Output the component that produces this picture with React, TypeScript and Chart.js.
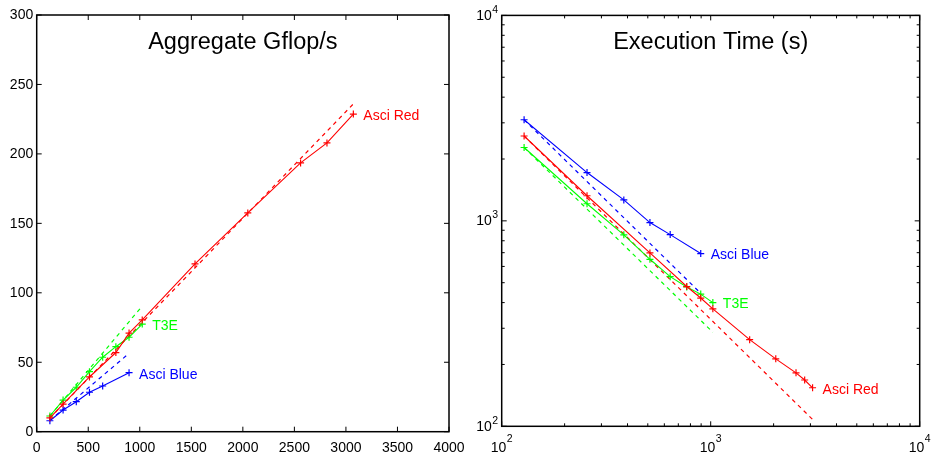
import React, { useEffect, useRef } from "react";
import { Chart, registerables } from "chart.js";

Chart.register(...registerables);

// ---------- data ----------
const procRed = [128, 256, 512, 768, 896, 1024, 1536, 2048, 2560, 2816, 3072];
const gflopRed = [10, 19.9, 39.4, 57, 71, 80.5, 120.8, 157.5, 193.5, 207.9, 228.7];
const timeRed = [2588, 1325, 698, 479, 421, 373, 264, 213, 182, 168, 154];

const procBlue = [128, 256, 384, 512, 640, 896];
const gflopBlue = [7.9, 15.6, 21.6, 28.4, 32.9, 42.5];
const timeBlue = [3105, 1718, 1265, 981, 857, 693];

const procGreen = [128, 256, 384, 512, 640, 768, 896, 1024];
const gflopGreen = [11.3, 22.8, 32, 43.2, 53.6, 61.2, 68, 77.5];
const timeGreen = [2275, 1211, 855, 650, 535, 477, 440, 400];

// ideal (perfect scaling) reference lines, endpoints as read
const idealProcRed = [128, 3072];
const idealGflopRed = [9.8, 236];
const idealTimeRed = [2588, 108];
const idealProcBlue = [128, 896];
const idealGflopBlue = [8.1, 56.4];
const idealTimeBlue = [3105, 444];
const idealProcGreen = [128, 1024];
const idealGflopGreen = [11.3, 90.5];
const idealTimeGreen = [2275, 287];

const seriesNames = ["Asci Red", "Asci Blue", "T3E"];
const seriesColors = ["#ff0000", "#0000ff", "#00ff00"];

const leftXTicks = [0, 500, 1000, 1500, 2000, 2500, 3000, 3500, 4000];
const leftYTicks = [0, 50, 100, 150, 200, 250, 300];
const logTicks = [100, 1000, 10000];
const logExponents = ["2", "3", "4"];

const leftTitle = "Aggregate Gflop/s";
const rightTitle = "Execution Time (s)";

const FONT = "'Liberation Sans', Arial, Helvetica, sans-serif";

const pts = (xs: number[], ys: number[]) => xs.map((x, i) => ({ x, y: ys[i] }));

function solid(label: string, color: string, data: any[]) {
  return {
    label,
    data,
    borderColor: color,
    backgroundColor: color,
    borderWidth: 1.1,
    pointStyle: "cross",
    pointRadius: 3.5,
    pointBorderWidth: 1.2,
    pointBorderColor: color,
    pointBackgroundColor: color,
    pointHoverRadius: 3.5,
    tension: 0,
    fill: false,
  };
}
function dashed(label: string, color: string, data: any[]) {
  return {
    label,
    data,
    borderColor: color,
    backgroundColor: color,
    borderWidth: 1.2,
    borderDash: [4, 4],
    borderCapStyle: "butt",
    pointRadius: 0,
    tension: 0,
    fill: false,
  };
}

const matlabPlugin = {
  id: "matlab",
  afterDatasetsDraw(chart: any, _args: any, opts: any) {
    const { ctx, chartArea: a, scales } = chart;
    const xs = scales.x;
    const ys = scales.y;
    ctx.save();
    // title
    ctx.fillStyle = "#000";
    ctx.font = `23.5px ${FONT}`;
    ctx.textAlign = "center";
    ctx.textBaseline = "alphabetic";
    ctx.fillText(opts.title, (a.left + a.right) / 2, 49);

    // series labels at last point of each solid series
    ctx.font = `14px ${FONT}`;
    ctx.textAlign = "left";
    ctx.textBaseline = "middle";
    (opts.series || []).forEach((s: any) => {
      const ds = chart.data.datasets[s.index];
      const last = ds.data[ds.data.length - 1];
      const px = xs.getPixelForValue(last.x);
      const py = ys.getPixelForValue(last.y);
      ctx.fillStyle = s.color;
      ctx.fillText(s.text, px + 10, py + 2);
    });

    // box
    ctx.strokeStyle = "#000";
    ctx.lineWidth = 1.5;
    ctx.strokeRect(a.left, a.top, a.right - a.left, a.bottom - a.top);

    // ticks
    ctx.lineWidth = 1;
    const xTick = (v: number, len: number) => {
      const p = xs.getPixelForValue(v);
      ctx.beginPath();
      ctx.moveTo(p, a.bottom);
      ctx.lineTo(p, a.bottom - len);
      ctx.moveTo(p, a.top);
      ctx.lineTo(p, a.top + len);
      ctx.stroke();
    };
    const yTick = (v: number, len: number) => {
      const p = ys.getPixelForValue(v);
      ctx.beginPath();
      ctx.moveTo(a.left, p);
      ctx.lineTo(a.left + len, p);
      ctx.moveTo(a.right, p);
      ctx.lineTo(a.right - len, p);
      ctx.stroke();
    };

    ctx.fillStyle = "#000";
    if (!opts.log) {
      opts.xTicks.forEach((v: number) => xTick(v, 5));
      opts.yTicks.forEach((v: number) => yTick(v, 5));
      ctx.font = `14px ${FONT}`;
      ctx.textAlign = "center";
      ctx.textBaseline = "alphabetic";
      opts.xTicks.forEach((v: number) => {
        ctx.fillText(String(v), xs.getPixelForValue(v), a.bottom + 20);
      });
      ctx.textAlign = "right";
      ctx.textBaseline = "middle";
      opts.yTicks.forEach((v: number) => {
        ctx.fillText(String(v), a.left - 3.5, ys.getPixelForValue(v) + 0.5);
      });
    } else {
      const ticks: number[] = opts.xTicks;
      for (let i = 0; i < ticks.length; i++) {
        xTick(ticks[i], 5);
        yTick(ticks[i], 5);
        if (i < ticks.length - 1) {
          for (let m = 2; m <= 9; m++) {
            xTick(ticks[i] * m, 3);
            yTick(ticks[i] * m, 3);
          }
        }
      }
      const big = `14px ${FONT}`;
      const small = `10.5px ${FONT}`;
      ticks.forEach((v: number, i: number) => {
        const exp = opts.exps[i];
        ctx.font = big;
        const w10 = ctx.measureText("10").width;
        ctx.font = small;
        const ws = ctx.measureText(exp).width;
        // x label
        const px = xs.getPixelForValue(v);
        const start = px - (w10 + ws + 0.5) / 2;
        ctx.textAlign = "left";
        ctx.textBaseline = "alphabetic";
        ctx.font = big;
        ctx.fillText("10", start, a.bottom + 25.5);
        ctx.font = small;
        ctx.fillText(exp, start + w10 + 0.5, a.bottom + 15.5);
        // y label
        const py = ys.getPixelForValue(v);
        const sx = a.left - 3.5 - ws;
        ctx.font = small;
        ctx.textAlign = "left";
        ctx.fillText(exp, sx, py - 2.5);
        ctx.font = big;
        ctx.textAlign = "right";
        ctx.textBaseline = "middle";
        ctx.fillText("10", sx - 0.5, py + 0.5);
      });
    }
    ctx.restore();
  },
};

export default function App() {
  const leftRef = useRef<HTMLCanvasElement>(null);
  const rightRef = useRef<HTMLCanvasElement>(null);

  useEffect(() => {
    const common = (log: boolean) => ({
      type: log ? "logarithmic" : "linear",
      grid: { display: false },
      border: { display: false },
      ticks: { display: false },
    });

    const left = new Chart(leftRef.current!, {
      type: "line",
      data: {
        datasets: [
          solid(seriesNames[0], seriesColors[0], pts(procRed, gflopRed)),
          solid(seriesNames[1], seriesColors[1], pts(procBlue, gflopBlue)),
          solid(seriesNames[2], seriesColors[2], pts(procGreen, gflopGreen)),
          dashed("ideal red", seriesColors[0], pts(idealProcRed, idealGflopRed)),
          dashed("ideal blue", seriesColors[1], pts(idealProcBlue, idealGflopBlue)),
          dashed("ideal green", seriesColors[2], pts(idealProcGreen, idealGflopGreen)),
        ],
      },
      options: {
        responsive: false,
        animation: false,
        devicePixelRatio: 1,
        layout: { padding: { left: 0, top: 15, right: 483, bottom: 0 } },
        scales: {
          x: {
            ...common(false),
            min: 0,
            max: 4000,
            afterFit: (s: any) => {
              s.height = 27.3;
            },
          },
          y: {
            ...common(false),
            min: 0,
            max: 300,
            afterFit: (s: any) => {
              s.width = 36.7;
            },
          },
        },
        plugins: {
          legend: { display: false },
          tooltip: { enabled: false },
          matlab: {
            title: leftTitle,
            log: false,
            xTicks: leftXTicks,
            yTicks: leftYTicks,
            series: [
              { index: 0, text: seriesNames[0], color: seriesColors[0] },
              { index: 1, text: seriesNames[1], color: seriesColors[1] },
              { index: 2, text: seriesNames[2], color: seriesColors[2] },
            ],
          },
        },
      } as any,
      plugins: [matlabPlugin],
    } as any);

    const right = new Chart(rightRef.current!, {
      type: "line",
      data: {
        datasets: [
          solid(seriesNames[0], seriesColors[0], pts(procRed, timeRed)),
          solid(seriesNames[1], seriesColors[1], pts(procBlue, timeBlue)),
          solid(seriesNames[2], seriesColors[2], pts(procGreen, timeGreen)),
          dashed("ideal red", seriesColors[0], pts(idealProcRed, idealTimeRed)),
          dashed("ideal blue", seriesColors[1], pts(idealProcBlue, idealTimeBlue)),
          dashed("ideal green", seriesColors[2], pts(idealProcGreen, idealTimeGreen)),
        ],
      },
      options: {
        responsive: false,
        animation: false,
        devicePixelRatio: 1,
        layout: { padding: { left: 0, top: 15.4, right: 12.3, bottom: 0 } },
        scales: {
          x: {
            ...common(true),
            min: 100,
            max: 10000,
            afterFit: (s: any) => {
              s.height = 32.7;
            },
          },
          y: {
            ...common(true),
            min: 100,
            max: 10000,
            afterFit: (s: any) => {
              s.width = 501.7;
            },
          },
        },
        plugins: {
          legend: { display: false },
          tooltip: { enabled: false },
          matlab: {
            title: rightTitle,
            log: true,
            xTicks: logTicks,
            exps: logExponents,
            series: [
              { index: 0, text: seriesNames[0], color: seriesColors[0] },
              { index: 1, text: seriesNames[1], color: seriesColors[1] },
              { index: 2, text: seriesNames[2], color: seriesColors[2] },
            ],
          },
        },
      } as any,
      plugins: [matlabPlugin],
    } as any);

    return () => {
      left.destroy();
      right.destroy();
    };
  }, []);

  const cv: React.CSSProperties = { position: "absolute", left: 0, top: 0 };
  return (
    <div
      style={{
        position: "fixed",
        left: 0,
        top: 0,
        width: 932,
        height: 459,
        background: "#fff",
        overflow: "hidden",
      }}
    >
      <canvas ref={leftRef} width={932} height={459} style={cv} />
      <canvas ref={rightRef} width={932} height={459} style={cv} />
    </div>
  );
}
